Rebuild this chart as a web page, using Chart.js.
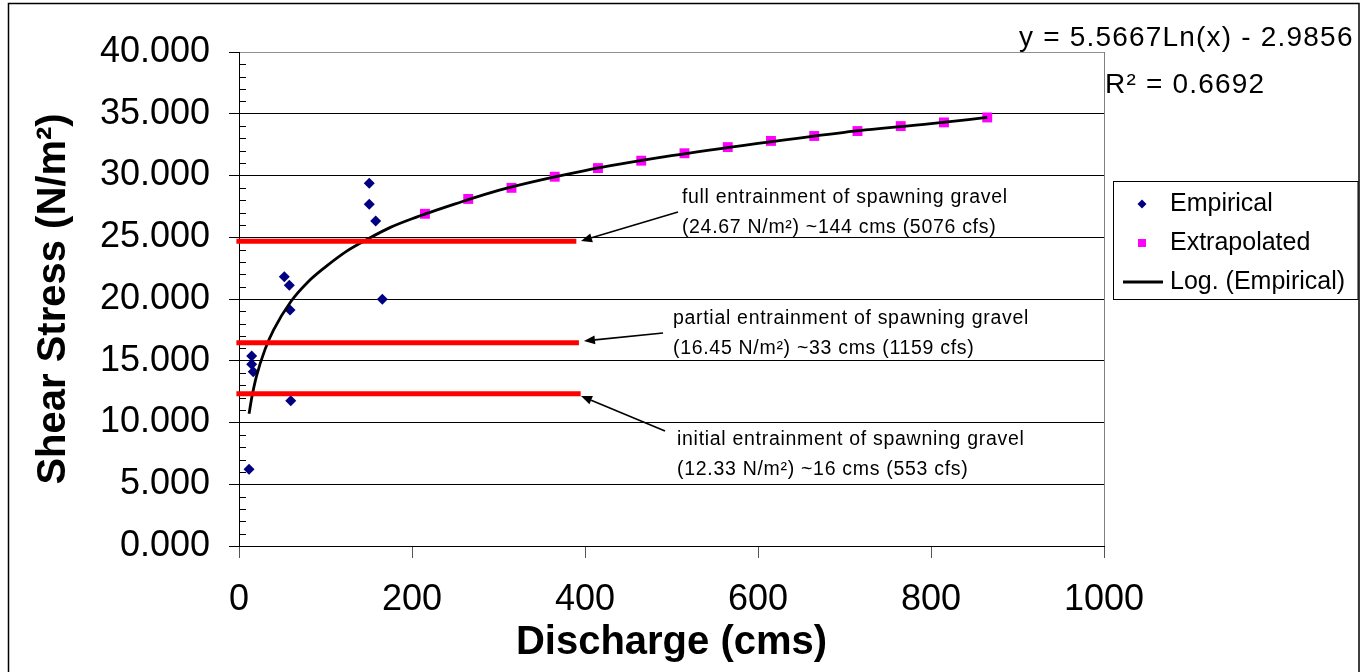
<!DOCTYPE html>
<html><head><meta charset="utf-8">
<script src="https://cdn.jsdelivr.net/npm/chart.js@4/dist/chart.umd.min.js"></script>
<style>html,body{margin:0;padding:0;background:#fff;}canvas{display:block;}</style>
</head><body>
<canvas id="c" width="1371" height="672"></canvas>
<script>
// ---- data ----
const empiricalX = [150.6, 150.6, 158.0, 52.4, 58.2, 59.0, 165.7, 14.7, 14.7, 16.5, 59.8, 11.6];
const empiricalY = [29.37, 27.67, 26.32, 21.80, 21.11, 19.11, 19.97, 15.38, 14.71, 14.11, 11.77, 6.21];
const extrapX = [215, 265, 315, 365, 415, 465, 515, 565, 615, 665, 715, 765, 815, 865];
const extrapY = [26.9, 28.1, 29.0, 29.9, 30.6, 31.2, 31.8, 32.3, 32.8, 33.2, 33.6, 34.0, 34.3, 34.7];
const trendX = [11.6, 15, 20, 30, 40, 60, 80, 100, 125, 150, 175, 200, 250, 300, 400, 500, 600, 700, 800, 865];
const trendY = [10.7, 12.1, 13.7, 15.9, 17.5, 19.8, 21.4, 22.6, 23.9, 24.9, 25.8, 26.5, 27.7, 28.8, 30.4, 31.6, 32.6, 33.5, 34.2, 34.7];
const thresholdY = [24.67, 16.45, 12.33];
const thresholdStartX = [-3, -3, -3];
const thresholdEndX = [390, 393, 395];
const xTickValues = [0, 200, 400, 600, 800, 1000];
const yTickValues = [0, 5, 10, 15, 20, 25, 30, 35, 40];
const seriesLabels = ['Empirical', 'Extrapolated', 'Log. (Empirical)'];
const equationText = 'y = 5.5667Ln(x) - 2.9856';
const r2Text = 'R² = 0.6692';
const xTitle = 'Discharge (cms)';
const yTitle = 'Shear Stress (N/m²)';
const noteLines = [
  ['full entrainment of spawning gravel', '(24.67 N/m²) ~144 cms (5076 cfs)'],
  ['partial entrainment of spawning gravel', '(16.45 N/m²) ~33 cms (1159 cfs)'],
  ['initial entrainment of spawning gravel', '(12.33 N/m²) ~16 cms (553 cfs)']
];
// annotation anchors in data units: text left/baseline, arrow tail, arrow tip
const noteTextX = [512, 501.7, 506.4];
const noteTextY = [27.77, 17.98, 8.18];
const arrowFromX = [507.5, 490.2, 492.5];
const arrowFromY = [27.04, 17.25, 9.31];
const arrowToX = [395.4, 398.8, 395.4];
const arrowToY = [24.70, 16.60, 12.15];

const FONT = '"Liberation Sans", Arial, sans-serif';
const pts = (xs, ys) => xs.map((x, i) => ({x: x, y: ys[i]}));

const datasets = [
  {label: seriesLabels[0], data: pts(empiricalX, empiricalY), showLine: false, pointStyle: 'rectRot',
   pointRadius: 5.5, backgroundColor: '#000080', borderColor: '#000080', borderWidth: 0, order: 2},
  {label: seriesLabels[1], data: pts(extrapX, extrapY), showLine: false, pointStyle: 'rect',
   pointRadius: 7, backgroundColor: '#FF00FF', borderColor: '#FF00FF', borderWidth: 0, order: 3},
  {label: seriesLabels[2], data: pts(trendX, trendY), showLine: true, pointRadius: 0,
   borderColor: '#000', borderWidth: 2.8, cubicInterpolationMode: 'monotone', fill: false, order: 1}
];
thresholdY.forEach((v, i) => {
  datasets.push({label: 'threshold' + i, data: [{x: thresholdStartX[i], y: v}, {x: thresholdEndX[i], y: v}],
    showLine: true, pointRadius: 0, borderColor: '#FF0000', borderWidth: 5, clip: false, fill: false, order: 0});
});

const decor = {
  id: 'decor',
  beforeDraw(chart) {
    const c = chart.ctx; c.save(); c.fillStyle = '#fff'; c.fillRect(0, 0, chart.width, chart.height); c.restore();
  },
  afterDatasetsDraw(chart) {
    const c = chart.ctx, xs = chart.scales.x, ys = chart.scales.y;
    c.save();
    // arrows
    for (let i = 0; i < noteLines.length; i++) {
      const x1 = xs.getPixelForValue(arrowFromX[i]), y1 = ys.getPixelForValue(arrowFromY[i]);
      const x2 = xs.getPixelForValue(arrowToX[i]), y2 = ys.getPixelForValue(arrowToY[i]);
      const a = Math.atan2(y2 - y1, x2 - x1), L = 11, W = 4.5;
      const bx = x2 - L * Math.cos(a), by = y2 - L * Math.sin(a);
      c.strokeStyle = '#000'; c.lineWidth = 1.6;
      c.beginPath(); c.moveTo(x1, y1); c.lineTo(bx, by); c.stroke();
      c.fillStyle = '#000'; c.beginPath();
      c.moveTo(x2, y2);
      c.lineTo(bx + W * Math.sin(a), by - W * Math.cos(a));
      c.lineTo(bx - W * Math.sin(a), by + W * Math.cos(a));
      c.closePath(); c.fill();
    }
    // annotation text
    c.font = '19.5px ' + FONT; c.fillStyle = '#000'; c.textAlign = 'left'; c.textBaseline = 'alphabetic';
    try { c.letterSpacing = '0.7px'; } catch (e) {}
    for (let i = 0; i < noteLines.length; i++) {
      const tx = xs.getPixelForValue(noteTextX[i]), ty = ys.getPixelForValue(noteTextY[i]);
      noteLines[i].forEach((t, k) => c.fillText(t, tx, ty + k * 30));
    }
    c.restore();
  },
  afterDraw(chart) {
    const c = chart.ctx, ys = chart.scales.y, area = chart.chartArea;
    c.save();
    // minor ticks on y axis (inside)
    c.strokeStyle = '#000'; c.lineWidth = 1;
    for (let v = ys.min + 1; v < ys.max; v += 1) {
      if (v % 5 === 0) continue;
      const py = Math.round(ys.getPixelForValue(v)) + 0.5;
      c.beginPath(); c.moveTo(area.left, py); c.lineTo(area.left + 7, py); c.stroke();
    }
    // equation
    c.fillStyle = '#000'; c.textAlign = 'left'; c.textBaseline = 'alphabetic';
    c.font = '28px ' + FONT;
    try { c.letterSpacing = '1.2px'; } catch (e) {}
    c.fillText(equationText, 1019, 46);
    c.fillText(r2Text, 1105, 93);
    try { c.letterSpacing = '0px'; } catch (e) {}
    // legend
    c.strokeStyle = '#000'; c.lineWidth = 1;
    c.strokeRect(1113.5, 181.5, 244.5, 118);
    const ds = chart.data.datasets;
    c.font = '25px ' + FONT; c.textBaseline = 'middle';
    const rows = [204, 243, 282];
    // diamond
    c.fillStyle = ds[0].backgroundColor;
    c.beginPath(); c.moveTo(1142, rows[0] - 4.5); c.lineTo(1146.5, rows[0]); c.lineTo(1142, rows[0] + 4.5); c.lineTo(1137.5, rows[0]); c.closePath(); c.fill();
    // square
    c.fillStyle = ds[1].backgroundColor; c.fillRect(1138, rows[1] - 4, 8, 8);
    // line
    c.strokeStyle = ds[2].borderColor; c.lineWidth = 3;
    c.beginPath(); c.moveTo(1123, rows[2]); c.lineTo(1163, rows[2]); c.stroke();
    c.fillStyle = '#000';
    for (let i = 0; i < 3; i++) c.fillText(ds[i].label, 1170, rows[i]);
    // outer frame
    c.strokeStyle = '#000'; c.lineWidth = 1.5;
    c.strokeRect(8.5, 3.5, 1350.5, 700);
    c.restore();
  }
};

new Chart(document.getElementById('c'), {
  type: 'scatter',
  data: {datasets: datasets},
  options: {
    responsive: false, animation: false, devicePixelRatio: 1,
    layout: {padding: {left: 0, right: 267, top: 52, bottom: 0}},
    plugins: {legend: {display: false}, tooltip: {enabled: false}},
    scales: {
      x: {
        type: 'linear', min: 0, max: 1000,
        afterBuildTicks: s => { s.ticks = xTickValues.map(v => ({value: v})); },
        afterFit: s => { s.height = 126; },
        ticks: {font: {family: FONT, size: 36}, color: '#000', padding: 20, maxRotation: 0, autoSkip: false,
                callback: v => String(v)},
        grid: {color: ctx => (ctx.tick && ctx.tick.value === 1000) ? '#808080' : 'rgba(0,0,0,0)',
               tickColor: '#555', tickLength: 12, lineWidth: 1},
        border: {display: true, color: '#000', width: 1},
        title: {display: true, text: xTitle, color: '#000', font: {family: FONT, size: 40, weight: 'bold'},
                padding: {top: 0, bottom: 5}}
      },
      y: {
        type: 'linear', min: 0, max: 40,
        afterBuildTicks: s => { s.ticks = yTickValues.map(v => ({value: v})); },
        afterFit: s => { s.width = 239; },
        ticks: {font: {family: FONT, size: 36}, color: '#000', padding: 19, autoSkip: false,
                callback: v => Number(v).toFixed(3)},
        grid: {color: ctx => (ctx.tick && ctx.tick.value === 40) ? '#909090' : '#000',
               tickColor: '#000', tickLength: 10, lineWidth: 1},
        border: {display: true, color: '#000', width: 1},
        title: {display: true, text: yTitle, color: '#000', font: {family: FONT, size: 40, weight: 'bold'},
                padding: {top: 30, bottom: 0}}
      }
    }
  },
  plugins: [decor]
});
</script>
</body></html>
